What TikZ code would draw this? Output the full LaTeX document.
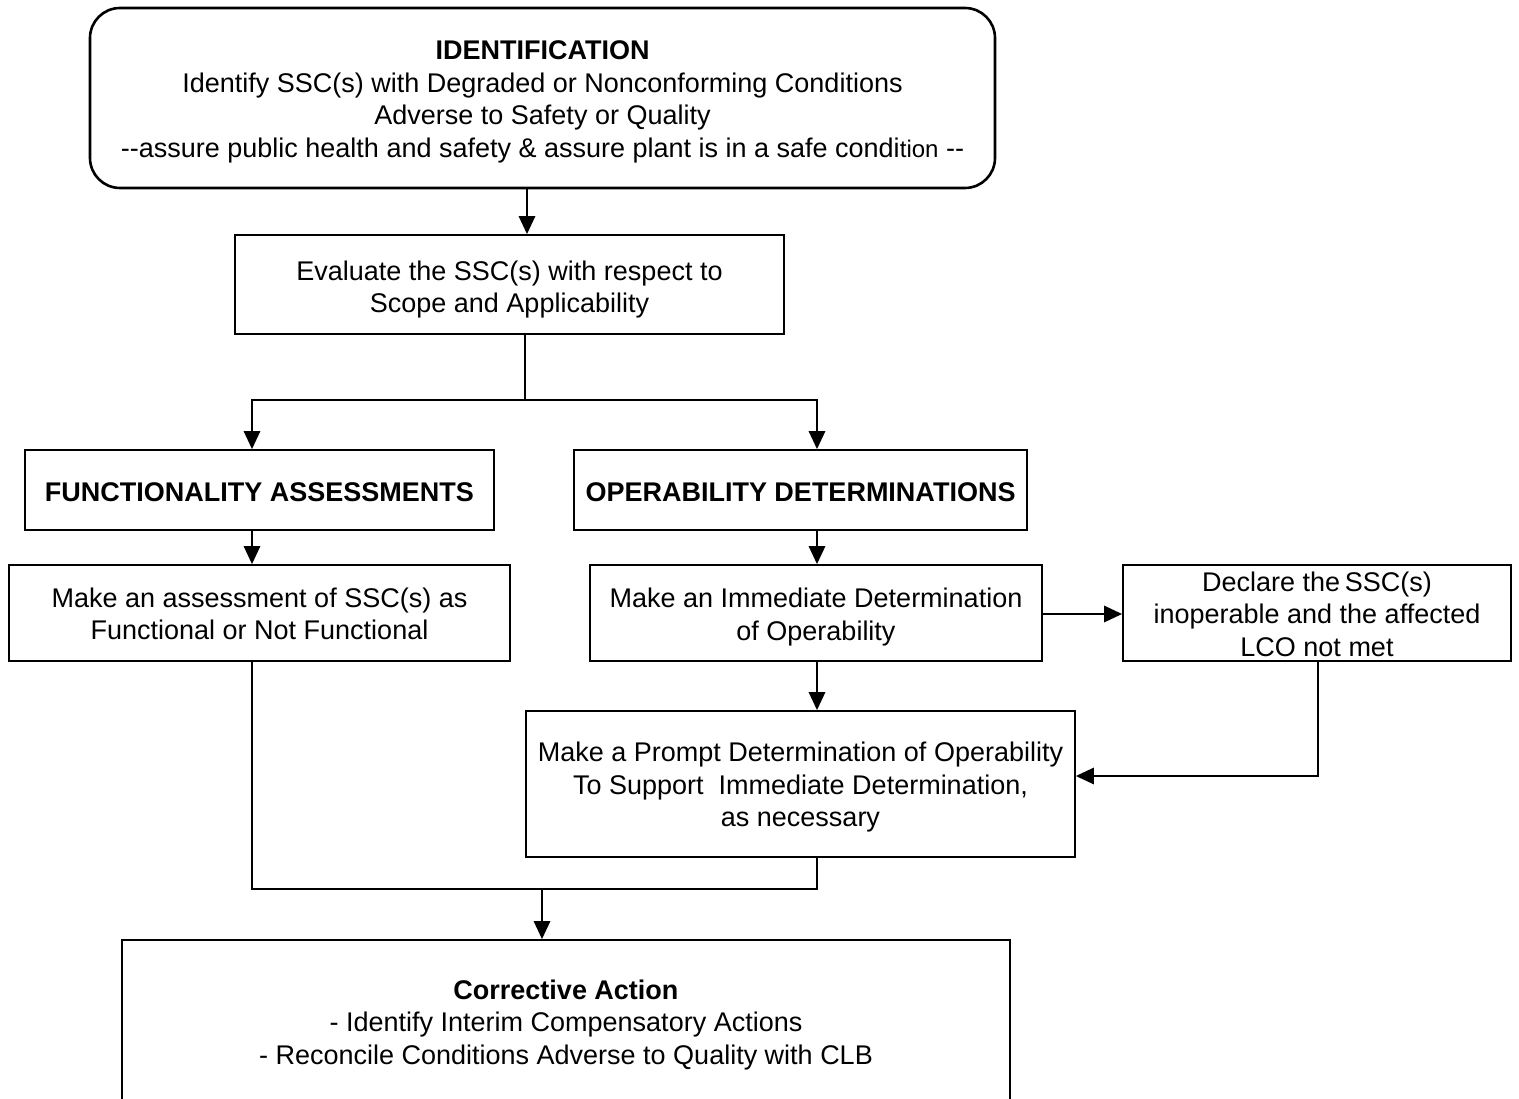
\documentclass[tikz,border=0pt]{standalone}
\usepackage{fontspec}
\setmainfont{Liberation Sans}
\usetikzlibrary{arrows.meta}
\begin{document}
\begin{tikzpicture}[x=1pt,y=-1pt,
  box/.style={draw, line width=1.6pt, inner sep=0pt},
  lbl/.style={inner sep=0pt, align=center, font=\fontsize{27}{32.5}\selectfont},
  conn/.style={line width=2.8pt},
  arr/.style={conn, -{Triangle[length=18pt,width=16pt]}}]
\useasboundingbox (0,0) rectangle (1519,1099);
\fill[white] (0,0) rectangle (1519,1099);
\node[box, line width=2.6pt, rounded corners=30pt, minimum width=905pt, minimum height=180pt,
  label={[lbl,yshift=-4pt]center:{\textbf{IDENTIFICATION}\\Identify SSC(s) with Degraded or Nonconforming Conditions\\Adverse to Safety or Quality\\-{}-assure public health and safety \& assure plant is in a safe condi{\fontsize{24}{32.5}\selectfont tion} -{}-}}]
  (ident) at (542.5,98) {};
\node[box, minimum width=549pt, minimum height=99pt,
  label={[lbl,yshift=-5pt]center:{Evaluate the SSC(s) with respect to\\Scope and Applicability}}]
  (eval) at (509.5,284.5) {};
\node[box, minimum width=469pt, minimum height=80pt,
  label={[lbl,yshift=-2pt]center:{\textbf{FUNCTIONALITY ASSESSMENTS}}}]
  (func) at (259.5,490) {};
\node[box, minimum width=453pt, minimum height=80pt,
  label={[lbl,yshift=-2pt]center:{\textbf{OPERABILITY DETERMINATIONS}}}]
  (oper) at (800.5,490) {};
\node[box, minimum width=501pt, minimum height=96pt,
  label={[lbl,yshift=-1pt]center:{Make an assessment of SSC(s) as\\Functional or Not Functional}}]
  (assess) at (259.5,613) {};
\node[box, minimum width=452pt, minimum height=96pt,
  label={[lbl,yshift=-4pt]center:{Make an Immediate Determination\\of Operability}}]
  (immed) at (816,613) {};
\node[box, minimum width=388pt, minimum height=96pt,
  label={[lbl,yshift=-1pt]center:{Declare the\,SSC(s)\\inoperable and the affected\\LCO not met}}]
  (declare) at (1317,613) {};
\node[box, minimum width=549pt, minimum height=146pt,
  label={[lbl,yshift=-3.5pt]center:{Make a Prompt Determination of Operability\\To Support\ \ Immediate Determination,\\as necessary}}]
  (prompt) at (800.5,784) {};
\node[box, minimum width=888pt, minimum height=164pt,
  label={[lbl,yshift=-3pt]center:{\textbf{Corrective Action}\\- Identify Interim Compensatory Actions\\- Reconcile Conditions Adverse to Quality with CLB}}]
  (corr) at (566,1022) {};
% connectors
\coordinate (split) at (525,400);
\coordinate (join) at (542,889);
\draw[arr] (ident.south -| 527,0) -- (eval.north -| 527,0);
\draw[conn] (eval.south -| split) -- (split);
\draw[arr] (split) -| (func.north -| 252,0);
\draw[arr] (split) -| (oper.north -| 817,0);
\draw[arr] (func.south -| 252,0) -- (assess.north -| 252,0);
\draw[arr] (oper.south -| 817,0) -- (immed.north -| 817,0);
\draw[arr] (immed.east |- 0,614) -- (declare.west |- 0,614);
\draw[arr] (immed.south -| 817,0) -- (prompt.north -| 817,0);
\draw[arr] (declare.south -| 1318,0) |- (prompt.east |- 0,776);
\draw[conn] (assess.south -| 252,0) |- (join) -| (prompt.south -| 817,0);
\draw[arr] (join) -- (corr.north -| join);
\end{tikzpicture}
\end{document}
